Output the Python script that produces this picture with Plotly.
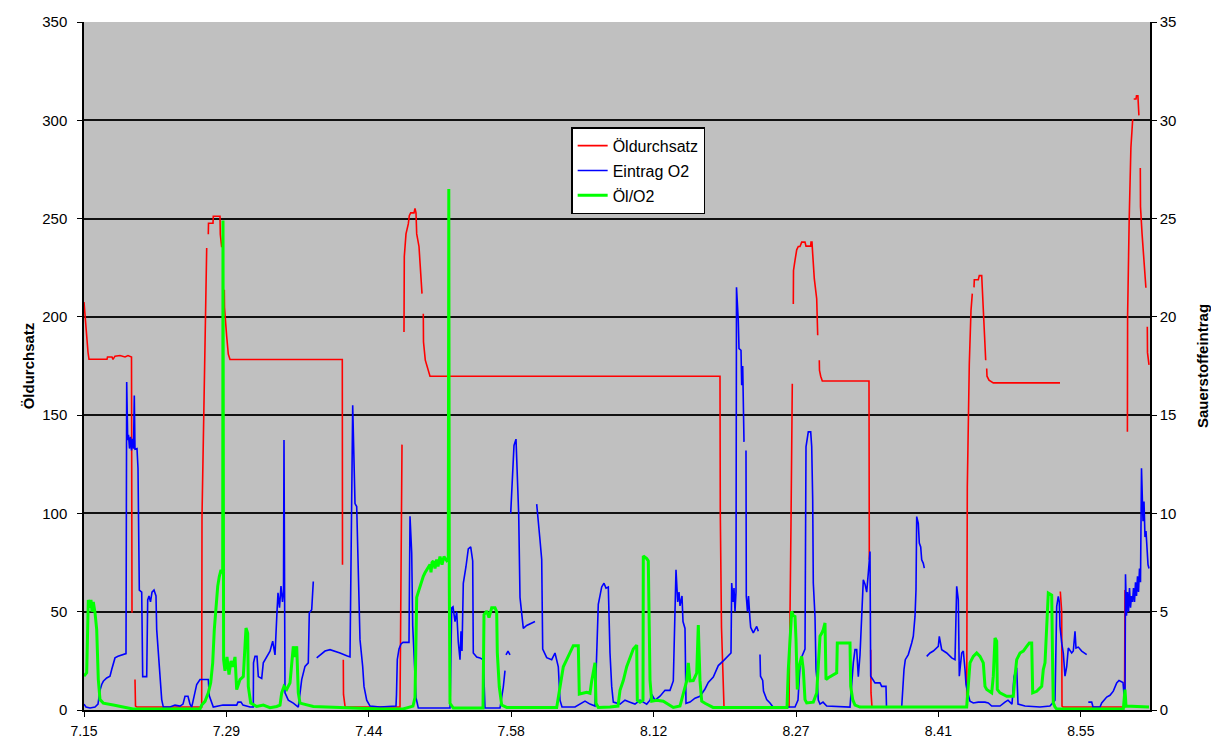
import plotly.graph_objects as go

# x axis: minutes after 7:15, labelled with clock times
tick_times = [0, 14.24, 28.48, 42.72, 56.96, 71.2, 85.44, 99.68]
tick_labels = ["7.15", "7.29", "7.44", "7.58", "8.12", "8.27", "8.41", "8.55"]

# Öldurchsatz (left axis); None marks missing samples
oel_t = [0.0, 0.1, 0.2, 0.3, 0.4, 0.5, 2.3, 2.35, 2.8, 2.9, 3.1, 3.6, 4.1, 4.4, 4.75, 4.8, 4.9,
         5.1, 5.15, 5.3, 11.77, 11.8, 12.0, 12.15, 12.27, 12.3,
         12.43, 12.45, 12.9, 12.93, 13.6, 13.63, 13.77, 13.8,
         14.03, 14.05, 14.27, 14.43, 14.6, 25.83, 25.85, 25.88,
         25.93, 25.95, 26.1, 26.15, 31.6, 31.7, 31.8, 31.9,
         32.0, 32.03, 32.2, 32.43, 32.53, 32.67, 33.0, 33.1, 33.2, 33.27, 33.5, 33.67, 33.8, 33.82,
         33.93, 33.95, 34.13, 34.43, 34.6, 63.6, 63.63, 63.75, 63.9, 64.0,
         70.5, 70.6, 70.7, 70.83, 70.88,
         70.93, 70.95, 71.1, 71.27, 71.43, 71.6, 71.77, 72.1, 72.2, 72.67, 72.7, 72.8, 72.87,
         73.03, 73.27, 73.37, 73.4,
         73.53, 73.55, 73.67, 73.83, 78.5, 78.53, 78.6,
         78.67, 78.7, 78.8, 88.27, 88.33, 88.53, 88.7, 88.83, 88.86,
         89.0, 89.03, 89.43, 89.53, 89.77, 89.87, 90.0, 90.17, 90.2,
         90.27, 90.3, 90.5, 90.93, 97.6, 97.61,
         97.63, 97.77, 97.8, 97.9, 104.05, 104.1, 104.15,
         104.34, 104.36, 104.52, 104.69, 104.87, 104.9,
         104.97, 105.2, 105.25, 105.39, 105.49, 105.55,
         105.63, 105.65, 105.8, 105.98, 106.19, 106.22,
         106.33, 106.35, 106.5]
oel_v = [207.5, 200, 192, 185, 182, 178.4, 178.4, 179.6, 179.6, 178.4, 180, 180.3, 179.6, 180.3, 179.6, 49.5, None,
         15.5, 2, 1.5, 1.5, 98.4, 166, 214.8, 235, None,
         242, 247.6, 247.6, 251.2, 251.2, 242, 235.4, None,
         213.8, 204.7, 190, 181, 178.3, 178.3, 73.9, None,
         25.6, 7.9, 2, 1.5, 1.5, 52, 135, None,
         192.3, 230.7, 242.2, 247.3, 251.5, 252.9, 252.9, 255.2, 252.9, 242.2, 235.8, 221, 211.8, None,
         201.6, 187.2, 178, 173.2, 169.8, 169.8, 100, 42, 12, 1.5,
         1.5, 35.8, 95, 166, None,
         206.5, 223.6, 228.7, 234.1, 235.8, 235.8, 238, 238, 236, 236, 238, 238, 232,
         219.4, 209.2, 190.6, None,
         177.9, 172.8, 169.8, 167.4, 167.4, 76.4, None,
         30.7, 8.7, 1.5, 1.5, 113.6, 176.2, 203.3, 211.8, None,
         215, 218.9, 218.9, 221, 221, 208.7, 190.6, 177.9, None,
         173.7, 169.8, 167.8, 166.4, 166.4, None,
         60.3, 50, 2, 1.5, 1.5, 61, None,
         141.6, 200.4, 249.9, 286, 300.5, None,
         310.8, 310.8, 312.5, 312.5, 302.5, None,
         275.7, 256, 242.7, 230.3, 214.8, None,
         195, 181.8, 175.6]

# Eintrag O2 (right axis)
o2_t = [0.0, 0.2, 0.6, 1.1, 1.4, 1.6, 1.77, 1.93, 2.27, 2.6, 2.77, 2.93, 3.1, 3.4, 4.2,
        4.27, 4.37, 4.45, 4.55, 4.65, 4.75, 4.85, 4.95, 5.03, 5.1, 5.3, 5.4, 5.53, 5.77, 5.87,
        6.27, 6.37, 6.5, 6.65, 6.8, 7.0, 7.2, 7.27, 7.5, 7.77, 7.93, 8.6, 9.1, 9.6, 9.9,
        10.1, 10.4, 10.6, 10.77, 11.1, 11.27, 11.6, 12.43, 12.53, 12.77, 12.93, 13.9,
        15.27, 15.4, 15.7, 15.9, 16.6, 16.93, 16.95, 17.1, 17.3, 17.43, 17.77, 17.93,
        18.27, 18.6, 18.87, 19.1, 19.3, 19.4, 19.55, 19.7, 19.85, 19.95, 20.0, 20.1,
        20.43, 20.93, 21.43, 21.77, 22.1, 22.43, 22.53, 22.77, 22.93, 23.0,
        23.27, 23.6, 24.1, 24.6, 25.1, 25.6, 26.27, 26.6, 26.87, 27.0, 27.1, 27.27,
        27.43, 27.6, 27.87, 28.0, 28.27, 28.6, 29.6, 31.2, 31.25, 31.33, 31.5, 31.7,
        31.9, 32.5, 32.6, 32.77, 32.87, 33.03, 33.2, 33.43, 36.6, 36.65, 36.77, 36.9,
        37.1, 37.27, 37.43, 37.6, 37.7, 37.8, 37.93, 38.2, 38.43, 38.67, 38.87, 38.93,
        39.27, 39.6, 39.93, 40.1, 41.6, 41.93, 42.1, 42.15,
        42.2, 42.4, 42.6, 42.65,
        42.67, 42.75, 42.87, 43.0, 43.2, 43.3, 43.47, 43.6, 43.77, 43.93, 44.27, 45.1, 45.15,
        45.27, 45.43, 45.6, 45.77, 45.87, 46.27, 46.77, 47.1, 47.2, 47.43, 47.6, 47.8,
        49.1, 49.6, 50.1, 50.6, 51.1, 51.43, 51.77, 52.0, 52.2, 52.43, 52.6, 52.77, 52.93,
        53.6, 54.1, 54.6, 55.1, 55.6, 56.27, 56.6, 56.77, 57.1, 57.6, 58.1, 58.6, 58.93,
        59.2, 59.37, 59.5, 59.6, 59.8, 59.9, 60.1, 60.2, 60.6, 61.1, 61.6, 62.1, 62.43,
        62.93, 63.43, 63.93, 64.43, 64.7, 64.77, 64.9, 65.0, 65.1, 65.2, 65.25, 65.43,
        65.5, 65.7, 65.77, 65.87, 65.93, 66.0, 66.05,
        66.2, 66.23, 66.35, 66.45, 66.6, 66.67, 66.93, 67.27, 67.43, 67.5,
        67.6, 67.65, 67.87, 67.95, 68.27, 68.6, 68.9, 71.1, 71.4, 71.6, 71.77, 72.1,
        72.2, 72.33, 72.43, 72.67, 72.77, 72.87, 72.93, 73.1, 73.2, 73.33, 73.43, 73.6,
        73.9, 74.27, 75.6, 76.6, 76.93, 77.1, 77.27, 77.43, 77.6, 77.77, 77.93, 78.1,
        78.27, 78.43, 78.6, 78.67, 78.87, 79.1, 79.6, 79.77, 80.2, 80.25, 81.77, 81.87,
        82.0, 82.13, 82.43, 82.77, 82.93, 83.1, 83.2, 83.27, 83.43, 83.53, 83.67, 83.77,
        83.93, 84.03, 84.1,
        84.27, 84.6, 84.93, 85.43, 85.53, 85.77, 86.27, 86.77, 87.1, 87.27, 87.43,
        87.53, 87.77, 87.93, 88.1, 88.2, 88.33, 88.6, 88.93, 89.43, 90.1, 90.43, 90.77,
        91.6, 92.1, 92.4, 92.8, 93.0, 93.27, 93.4, 94.1, 95.6, 96.6, 97.1, 97.27, 97.43,
        97.53, 97.6, 97.77, 97.93, 98.1, 98.27, 98.43, 98.6, 98.77, 98.93, 99.1, 99.2,
        99.43, 99.77, 100.1, 100.27, 100.3,
        100.43, 100.77, 100.9, 101.6, 101.77, 101.9, 102.27, 102.6, 102.93, 103.27,
        103.5, 103.9, 104.1, 104.15, 104.25, 104.35, 104.45, 104.55, 104.65, 104.75,
        104.85, 104.95, 105.05, 105.15, 105.25, 105.35, 105.45, 105.55, 105.65, 105.75,
        105.83, 105.9, 106.0, 106.1, 106.2, 106.3, 106.4, 106.5]
o2_v = [0.3, 0.15, 0.1, 0.15, 0.3, 1.0, 1.3, 1.46, 1.63, 1.72, 2.06, 2.4, 2.65, 2.73, 2.87,
        16.69, 13.73, 14.0, 13.3, 13.9, 13.2, 13.8, 13.3, 16.0, 13.27, 13.3, 12.3, 6.1, 6.0, 1.7,
        1.7, 5.6, 5.8, 5.5, 6.0, 6.1, 5.8, 4.09, 2.4, 0.53, 0.15, 0.15, 0.25, 0.2, 0.3,
        0.7, 0.7, 0.3, 0.15, 0.89, 1.3, 1.55, 1.55, 0.72, 0.38, 0.15, 0.25,
        0.25, 0.4, 0.4, 0.25, 0.15, 0.15, 2.4, 2.73, 2.73, 1.7, 1.6, 2.4,
        2.7, 2.99, 3.5, 2.8, 5.0, 5.96, 5.2, 6.3, 5.5, 6.0, 13.73, 0.87,
        0.5, 0.35, 0.15, 1.55, 2.22, 2.4, 4.95, 5.1, 6.54, None,
        2.65, 2.8, 3.0, 3.07, 3.0, 2.9, 2.76, 2.7, 15.5, 12.7, 10.5, 10.35,
        6.2, 3.58, 2.2, 1.2, 0.5, 0.2, 0.15, 0.2, 0.8, 2.57, 3.1, 3.36,
        3.44, 3.44, 9.86, 8.0, 4.3, 2.2, 0.63, 0.1, 0.1, 1.4, 5.2, 5.25,
        4.5, 5.0, 3.45, 2.56, 4.0, 3.0, 6.44, 7.3, 8.2, 8.3, 7.58, 2.9,
        2.7, 2.65, 2.56, 0.1, 0.1, 1.17, 2.0, None,
        2.8, 3.0, 2.8, None,
        10.0, 10.8, 12.23, 13.46, 13.78, 12.55, 9.95, 5.73, 4.85, 4.15, 4.3, 4.5, None,
        10.47, 9.4, 8.65, 7.66, 3.1, 2.66, 2.56, 2.9, 2.7, 2.2, 0.5, 0.15,
        0.15, 0.3, 0.45, 0.3, 0.2, 5.38, 6.26, 6.45, 6.2, 6.26, 2.9, 1.2, 0.4,
        0.3, 0.5, 0.4, 0.3, 0.5, 0.3, 0.5, 0.8, 0.5, 0.7, 1.0, 1.0, 1.48,
        7.13, 5.5, 6.0, 5.3, 5.8, 4.5, 4.15, 0.34, 0.4, 0.6, 0.7, 1.07, 1.4,
        1.67, 2.26, 2.5, 2.73, 2.9, 6.46, 5.5, 6.2, 5.0, 6.0, 21.5, 19.8,
        18.39, 18.3, 16.52, 17.5, 14.9, 13.64, None,
        13.2, 5.78, 5.0, 5.8, 4.6, 4.2, 3.92, 4.25, 4.0, None,
        2.82, 1.72, 1.5, 0.96, 0.53, 0.36, 0.15, 0.15, 0.5, 2.22, 2.7, 3.1,
        13.39, 13.9, 14.15, 14.15, 13.4, 10.69, 6.46, 4.76, 2.06, 1.38, 0.5, 0.3,
        0.4, 0.2, 0.15, 0.15, 2.4, 3.07, 3.07, 1.7, 2.8, 4.93, 6.62, 6.4,
        6.0, 6.96, 8.06, 1.72, 1.55, 1.38, 1.38, 1.2, 1.2, 0.15, 0.15, 1.38,
        2.06, 2.56, 2.82, 3.41, 3.75, 4.76, 6.12, 9.84, 9.49, 8.49, 8.3, 7.64,
        7.46, 7.22, None,
        2.73, 2.9, 3.0, 3.24, 3.75, 3.07, 2.9, 2.65, 2.56, 6.29, 5.6,
        1.72, 2.9, 3.0, 2.06, 1.3, 0.96, 0.45, 0.36, 0.4, 0.4, 0.36, 0.2,
        0.2, 0.4, 0.5, 0.3, 1.7, 2.15, 0.3, 0.2, 0.15, 0.2, 0.5, 5.27, 5.78,
        5.5, 4.25, 3.41, 2.9, 1.72, 2.2, 3.15, 3.0, 2.9, 3.0, 4.0, 3.15,
        3.2, 3.0, 2.9, 2.82, None,
        0.4, 0.4, 0.15, 0.15, 0.36, 0.45, 0.66, 0.75, 0.96, 1.38,
        1.5, 1.4, 0.2, 6.9, 4.8, 6.0, 5.0, 6.2, 5.2, 5.8,
        5.5, 6.2, 5.5, 6.5, 5.8, 6.8, 6.0, 7.2, 6.5, 12.3,
        11.0, 9.6, 10.6, 8.8, 9.1, 8.0, 7.4, 7.2]

# Öl/O2 (right axis)
ratio_t = [0.0, 0.27, 0.43, 0.6, 0.7, 0.8, 0.93, 1.1, 1.27, 1.43, 1.6, 1.93, 2.93, 4.27, 4.9,
           11.6, 11.77, 12.1, 12.43, 12.67, 12.87, 13.03, 13.2, 13.37, 13.53, 13.7, 13.87,
           13.9, 13.96, 14.1, 14.3, 14.5, 14.7, 14.9, 15.1, 15.27, 15.6, 15.93, 16.2,
           16.37, 16.43, 16.67, 17.27, 17.93, 18.6, 19.27, 19.6, 19.77, 20.0, 20.27, 20.6,
           20.77, 20.93, 21.1, 21.27, 21.43, 21.6, 22.93, 26.27, 29.6, 31.9, 32.9, 33.1,
           33.27, 33.43, 33.6, 33.77, 33.93, 34.1, 34.27, 34.6, 34.7, 34.8, 34.93, 35.1,
           35.27, 35.4, 35.6, 35.8, 36.0, 36.27, 36.43, 36.48, 36.53, 36.6, 36.93, 39.9,
           40.0, 40.27, 40.5, 40.77, 41.1, 41.27, 41.33, 41.53, 41.77, 42.27, 47.27, 47.6,
           47.93, 48.27, 48.6, 48.93, 49.43, 49.53, 50.27, 50.6, 50.77, 51.1, 51.2, 51.43,
           52.6, 53.4, 53.6, 53.93, 54.27, 54.6, 54.93, 55.27, 55.33, 55.6, 55.9, 55.93,
           56.27, 56.43, 56.6, 56.77, 57.27, 57.93, 58.93, 59.6, 60.27, 60.43, 60.6, 60.93,
           61.27, 61.43, 61.6, 61.77, 62.1, 62.9, 70.3, 70.43, 70.6, 70.77, 70.93, 71.1,
           71.2, 71.33, 71.43, 71.6, 71.77, 71.93, 72.1, 72.27, 72.93, 73.27, 73.43, 73.6,
           73.77, 73.93, 74.1, 74.2, 74.43, 74.93, 75.27, 75.33, 76.6, 76.67, 76.87, 77.1,
           77.6, 88.27, 88.43, 88.6, 88.93, 89.27, 89.6, 89.93, 90.1, 90.27, 90.77, 90.93,
           91.1, 91.27, 91.33, 91.6, 92.27, 92.93, 93.1, 93.27, 93.6, 93.93, 94.27, 94.53,
           94.77, 94.87, 95.27, 95.77, 95.93, 96.1, 96.43, 96.77, 96.87, 96.93, 97.1, 97.27,
           103.93, 104.1, 104.2, 106.5]
ratio_v = [1.72, 1.9, 5.6, 5.2, 5.6, 5.0, 5.5, 4.95, 4.09, 1.55, 0.53, 0.35, 0.25, 0.12, 0.05,
           0.05, 0.25, 0.44, 0.87, 1.38, 2.4, 4.09, 5.44, 6.29, 6.79, 7.13, 6.96,
           24.9, 2.56, 2.0, 2.7, 1.8, 2.5, 2.2, 2.7, 1.04, 1.55, 1.7, 4.17,
           3.9, 1.2, 0.35, 0.18, 0.25, 0.12, 0.18, 0.25, 0.87, 1.2, 1.05, 1.38,
           2.4, 3.24, 2.7, 3.24, 0.87, 0.35, 0.18, 0.12, 0.05, 0.05, 0.2, 0.63,
           5.73, 6.0, 6.26, 6.63, 6.8, 6.98, 7.13, 7.4, 7.0, 7.5, 7.58, 7.2,
           7.66, 7.3, 7.8, 7.4, 7.8, 7.6, 7.7, 26.5, 6.44, 0.34, 0.1, 0.1,
           4.85, 5.03, 4.7, 5.2, 5.2, 5.0, 2.92, 1.17, 0.25, 0.13, 0.13, 1.17,
           2.2, 2.56, 2.92, 3.27, 3.27, 0.81, 0.9, 0.85, 1.48, 2.4, 0.34, 0.13,
           0.15, 0.2, 1.0, 1.5, 2.2, 2.7, 3.1, 3.3, 0.5, 0.4, 0.5, 7.84,
           7.7, 7.58, 1.52, 0.45, 0.5, 0.45, 0.13, 0.2, 1.48, 2.4, 1.48, 1.5,
           1.87, 4.32, 1.48, 0.45, 0.34, 0.13, 0.13, 2.06, 3.75, 5.02, 4.8, 4.76,
           3.6, 1.04, 2.06, 2.4, 2.73, 2.06, 0.53, 0.36, 0.4, 0.87, 2.06, 3.75,
           3.9, 4.09, 4.43, 1.55, 1.64, 1.8, 1.89, 3.41, 3.41, 1.2, 0.53, 0.25,
           0.15, 0.15, 1.55, 2.4, 2.73, 2.9, 2.73, 2.4, 1.2, 1.04, 0.87, 1.72,
           3.66, 3.5, 1.04, 0.87, 0.7, 0.7, 1.72, 2.56, 2.9, 3.0, 3.24, 3.41,
           3.41, 0.87, 0.95, 1.2, 2.06, 2.4, 5.95, 5.85, 2.06, 0.36, 0.15, 0.05,
           0.05, 1.04, 0.2, 0.15]

FONT = "Liberation Sans, Arial, sans-serif"

fig = go.Figure()
fig.add_trace(go.Scatter(x=oel_t, y=oel_v, name="Öldurchsatz", mode="lines",
                         line=dict(color="#ff0000", width=1.6), connectgaps=False,
                         legendgroup="a"))
fig.add_trace(go.Scatter(x=o2_t, y=o2_v, name="Eintrag O2", mode="lines", yaxis="y2",
                         line=dict(color="#0000ff", width=1.6), connectgaps=False,
                         legendgroup="b"))
fig.add_trace(go.Scatter(x=ratio_t, y=ratio_v, name="Öl/O2", mode="lines", yaxis="y2",
                         line=dict(color="#00ff00", width=3), connectgaps=False,
                         legendgroup="c"))

fig.update_layout(
    width=1211, height=742,
    margin=dict(l=84, r=61, t=22, b=32, autoexpand=False),
    paper_bgcolor="white",
    plot_bgcolor="#c0c0c0",
    font=dict(family=FONT, size=15, color="black"),
    showlegend=True,
    legend=dict(x=0.457, y=0.847, xanchor="left", yanchor="top",
                bgcolor="white", bordercolor="black", borderwidth=1.5,
                font=dict(size=16), tracegroupgap=1, itemwidth=30),
    xaxis=dict(range=[0, 106.6], tickvals=tick_times, ticktext=tick_labels,
               showgrid=False, zeroline=False, showline=True, linecolor="black",
               linewidth=1.5, ticks="outside", ticklen=5, tickcolor="black",
               tickfont=dict(size=14), ticklabelstandoff=2, automargin=False),
    yaxis=dict(range=[0, 350], tickvals=[0, 50, 100, 150, 200, 250, 300, 350],
               showgrid=True, gridcolor="#111111", gridwidth=1.5, zeroline=False,
               showline=True, linecolor="black", linewidth=1.5, ticks="outside",
               ticklen=5, tickcolor="black", tickfont=dict(size=15),
               ticklabelstandoff=7, automargin=False,
               title=dict(text="Öldurchsatz", standoff=4,
                          font=dict(size=15, weight="bold"))),
    yaxis2=dict(range=[0, 35], tickvals=[0, 5, 10, 15, 20, 25, 30, 35],
                overlaying="y", side="right", showgrid=False, zeroline=False,
                showline=True, linecolor="black", linewidth=1.5, ticks="outside",
                ticklen=5, tickcolor="black", tickfont=dict(size=15),
                automargin=False,
                title=dict(text="Sauerstoffeintrag", standoff=22,
                           font=dict(size=15, weight="bold"))),
)

fig.write_html("out.html")
